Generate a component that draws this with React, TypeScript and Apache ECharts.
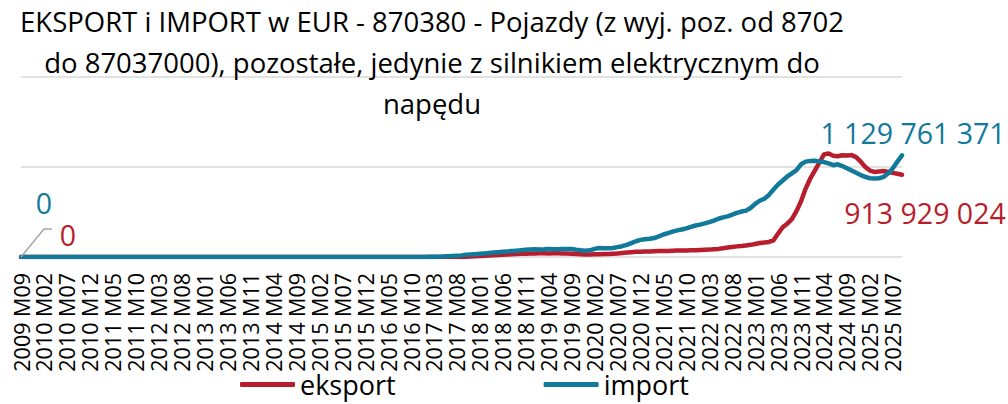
import React, { useEffect, useRef } from "react";
import * as echarts from "echarts";

// Category labels: monthly, 2009 M09 .. 2025 M09
const categories: string[] = [];
for (let i = 0; i < 193; i++) {
  const m = 8 + i;
  const y = 2009 + Math.floor(m / 12);
  const mo = (m % 12) + 1;
  categories.push(`${y} M${mo < 10 ? "0" + mo : mo}`);
}

// values in millions EUR
const eksport: number[] = [
  0, 0, 0, 0, 0, 0, 0, 0, 0, 0, 0, 0,
  0, 0, 0, 0, 0, 0, 0, 0, 0, 0, 0, 0,
  0, 0, 0, 0, 0, 0, 0, 0, 0, 0, 0, 0,
  0, 0, 0, 0, 0, 0, 0, 0, 0, 0, 0, 0,
  0, 0, 0, 0, 0, 0, 0, 0, 0, 0, 0, 0,
  0, 0, 0, 0, 0, 0, 0, 0, 0, 0, 0, 0,
  0, 0, 0, 0, 0, 0, 0, 0, 0, 0, 0, 0,
  0, 0, 0, 0,
  0, 0, 0, 0, 0, 0, 0, 0, 1, 3, 6, 9,
  12, 15, 18, 20, 22, 25, 28, 31, 33, 35, 37, 38,
  40, 42, 41, 40, 42, 41, 40, 39, 37, 34, 31, 29,
  29, 30, 31, 32, 33, 36, 40, 45, 50, 54, 57, 58,
  60, 62, 64, 66, 67, 68, 70, 71, 72, 73, 74, 76,
  78, 80, 82, 86, 90, 98, 106, 112, 118, 122, 128, 135,
  145, 155, 160, 167, 185, 260, 330, 370, 420, 510, 620, 760,
  870, 960, 1050, 1140, 1150, 1125, 1120, 1130, 1128, 1132, 1110, 1060,
  1000, 960, 945, 950, 955, 945, 935, 925, 913.929024,
];

const importV: number[] = [
  0, 0, 0, 0, 0, 0, 0, 0, 0, 0, 0, 0,
  0, 0, 0, 0, 0, 0, 0, 0, 0, 0, 0, 0,
  0, 0, 0, 0, 0, 0, 0, 0, 0, 0, 0, 0,
  0, 0, 0, 0, 0, 0, 0, 0, 0, 0, 0, 0,
  0, 0, 0, 0, 0, 0, 0, 0, 0, 0, 0, 0,
  0, 0, 0, 0, 0, 0, 0, 0, 0, 0, 0, 0,
  0, 0, 0, 0, 0, 0, 0, 0, 0, 0, 0, 0,
  0, 0, 0, 0,
  1, 2, 3, 4, 6, 8, 11, 14, 18, 24, 27, 31,
  35, 40, 44, 49, 54, 58, 62, 66, 70, 75, 80, 84,
  86, 84, 85, 88, 86, 87, 89, 90, 88, 80, 74, 70,
  74, 90, 100, 98, 96, 100, 110, 120, 135, 155, 175, 190,
  198, 203, 210, 230, 250, 265, 282, 296, 305, 318, 335, 350,
  360, 373, 388, 405, 425, 440, 452, 470, 490, 505, 515, 545,
  590, 625, 648, 690, 750, 805, 850, 895, 930, 965, 1030, 1060,
  1068, 1070, 1062, 1055, 1040, 1020, 1030, 1010, 985, 960, 935, 910,
  890, 875, 872, 875, 890, 930, 985, 1060, 1129.761371,
];

const labelFirstExport = "0";
const labelFirstImport = "0";
const labelLastExport = "913 929 024";
const labelLastImport = "1 129 761 371";

const titleLines = [
  "EKSPORT i IMPORT w EUR - 870380 - Pojazdy (z wyj. poz. od 8702",
  "do 87037000), pozostałe, jedynie z silnikiem elektrycznym do",
  "napędu",
];

const RED = "#B81D2E";
const TEAL = "#11799A";
const FONT = "'Open Sans', sans-serif";

export default function App() {
  const ref = useRef<HTMLDivElement>(null);
  useEffect(() => {
    if (!ref.current) return;
    const chart = echarts.init(ref.current, null, { renderer: "svg" });
    const last = categories.length - 1;
    const mkLabel = (color: string) => ({
      show: true,
      color,
      fontFamily: FONT,
      fontSize: 28.5,
      position: "inside",
    });
    chart.setOption({
      animation: false,
      grid: { left: 21, right: 106, top: 77, bottom: 147, containLabel: false },
      xAxis: {
        type: "category",
        data: categories,
        boundaryGap: false,
        axisLine: { show: false },
        axisTick: { show: false },
        axisLabel: {
          interval: 4,
          rotate: 90,
          margin: 16,
          color: "#000",
          fontFamily: FONT,
          fontSize: 21.5,
        },
        splitLine: { show: false },
      },
      yAxis: {
        type: "value",
        min: 0,
        max: 2000,
        interval: 1000,
        axisLabel: { show: false },
        axisLine: { show: false },
        axisTick: { show: false },
        splitLine: { show: true, lineStyle: { color: "#d9d9d9", width: 1.5 } },
      },
      legend: {
        left: 240,
        top: 371,
        padding: 0,
        itemWidth: 55,
        itemHeight: 5,
        itemGap: 148,
        icon: "roundRect",
        textStyle: { fontFamily: FONT, fontSize: 27, color: "#000" },
        data: ["eksport", "import"],
      },
      series: [
        {
          name: "eksport",
          type: "line",
          data: eksport,
          showSymbol: false,
          symbol: "none",
          lineStyle: { color: RED, width: 4.5, cap: "round", join: "round" },
          itemStyle: { color: RED },
          z: 3,
          markPoint: {
            symbol: "circle",
            symbolSize: 0,
            itemStyle: { color: "transparent" },
            data: [
              { coord: [0, eksport[0]], label: { ...mkLabel(RED), formatter: labelFirstExport, offset: [47, -22] } },
              { coord: [last, eksport[last]], label: { ...mkLabel(RED), formatter: labelLastExport, offset: [23, 38] } },
            ],
          },
        },
        {
          name: "import",
          type: "line",
          data: importV,
          showSymbol: false,
          symbol: "none",
          lineStyle: { color: TEAL, width: 4.5, cap: "round", join: "round" },
          itemStyle: { color: TEAL },
          z: 4,
          markPoint: {
            symbol: "circle",
            symbolSize: 0,
            itemStyle: { color: "transparent" },
            data: [
              { coord: [0, importV[0]], label: { ...mkLabel(TEAL), formatter: labelFirstImport, offset: [23, -54] } },
              { coord: [last, importV[last]], label: { ...mkLabel(TEAL), formatter: labelLastImport, offset: [11, -22] } },
            ],
          },
        },
      ],
    });
    const p = chart.convertToPixel({ gridIndex: 0 }, [0, 0]) as number[];
    chart.setOption({
      graphic: [
        {
          type: "polyline",
          z: 10,
          shape: {
            points: [
              [p[0], p[1]],
              [p[0] + 23, p[1] - 28],
              [p[0] + 31, p[1] - 28],
            ],
          },
          style: { stroke: "#a6a6a6", lineWidth: 1.5, fill: null },
        },
        {
          type: "text",
          z: 10,
          x: 432,
          y: 1,
          style: {
            text: titleLines.join("\n"),
            align: "center",
            fontFamily: FONT,
            fontSize: 27.5,
            lineHeight: 41,
            fill: "#000",
          },
        },
      ],
    });
    return () => chart.dispose();
  }, []);
  return (
    <div
      ref={ref}
      style={{ position: "absolute", left: 0, top: 0, width: 1008, height: 404 }}
    />
  );
}
